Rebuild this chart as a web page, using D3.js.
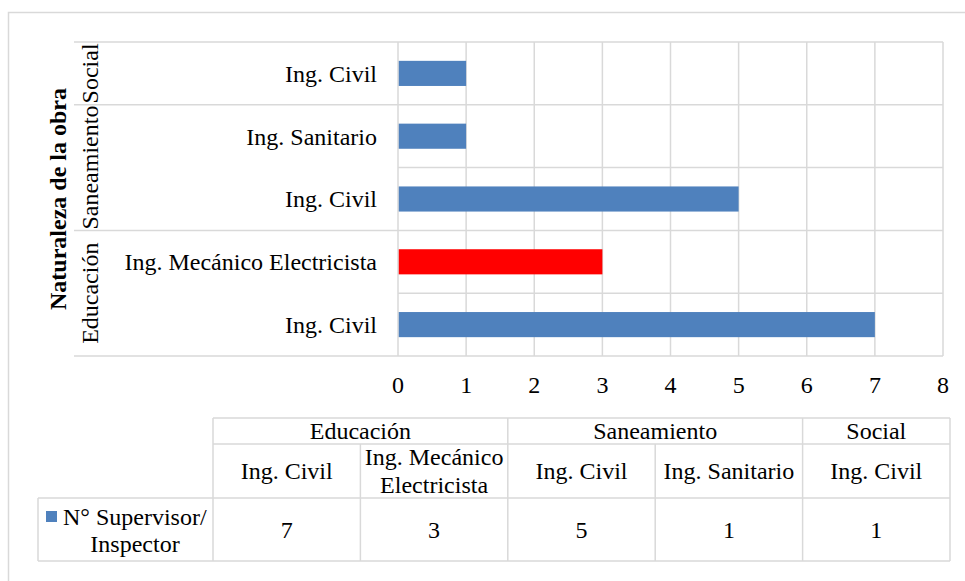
<!DOCTYPE html>
<html>
<head>
<meta charset="utf-8">
<script src="https://cdn.jsdelivr.net/npm/d3@7"></script>
<style>
  body { margin: 0; background: #fff; }
</style>
</head>
<body>
<svg id="chart"></svg>
<script>
// data
const groups = ["Educación", "Saneamiento", "Social"];
const categories = ["Ing. Civil", "Ing. Mecánico Electricista", "Ing. Civil", "Ing. Sanitario", "Ing. Civil"];
const categoryGroup = [0, 0, 1, 1, 2];
const values = [7, 3, 5, 1, 1];
const highlighted = [false, true, false, false, false];
const xTicks = [0, 1, 2, 3, 4, 5, 6, 7, 8];
const seriesName = ["N° Supervisor/", "Inspector"];
const tableHeaderLines = [["Ing. Civil"], ["Ing. Mecánico", "Electricista"], ["Ing. Civil"], ["Ing. Sanitario"], ["Ing. Civil"]];

const W = 965, H = 581;
const grid = "#d9d9d9";
const blue = "#4f81bd", red = "#ff0000";
const fs = 24;
const serif = "Liberation Serif";

const svg = d3.select("#chart").attr("width", W).attr("height", H)
  .attr("font-family", serif).attr("font-size", fs);

// outer chart frame (runs off the right and bottom)
svg.append("rect")
  .attr("x", 8.5).attr("y", 12.5)
  .attr("width", W + 20).attr("height", H + 20)
  .attr("fill", "none").attr("stroke", grid).attr("stroke-width", 1.5);

const plot = { left: 398, right: 943, top: 42, bottom: 356 };

const x = d3.scaleLinear().domain([0, 8]).range([plot.left, plot.right]);
const idx = d3.range(categories.length);
const y = d3.scaleBand().domain(idx).range([plot.bottom, plot.top])
  .paddingInner(0.6).paddingOuter(0.3);
// row boundaries (bottom to top)
const rowEdge = i => plot.bottom - i * (plot.bottom - plot.top) / categories.length;

// vertical gridlines
svg.append("g").selectAll("line").data(xTicks).join("line")
  .attr("x1", d => x(d)).attr("x2", d => x(d))
  .attr("y1", plot.top).attr("y2", plot.bottom)
  .attr("stroke", grid).attr("stroke-width", 1.5);

// horizontal lines: inner rows only in plot, group boundaries extend left
const groupStarts = [0];
categoryGroup.forEach((g, i) => { if (i > 0 && g !== categoryGroup[i - 1]) groupStarts.push(i); });
groupStarts.push(categories.length);
svg.append("g").selectAll("line").data(d3.range(categories.length + 1)).join("line")
  .attr("x1", d => groupStarts.includes(d) ? 74 : plot.left)
  .attr("x2", plot.right)
  .attr("y1", d => rowEdge(d)).attr("y2", d => rowEdge(d))
  .attr("stroke", grid).attr("stroke-width", 1.5);

// bars
svg.append("g").selectAll("rect").data(idx).join("rect")
  .attr("x", x(0) + 0.75)
  .attr("y", i => y(i))
  .attr("width", i => x(values[i]) - x(0) - 0.75)
  .attr("height", y.bandwidth())
  .attr("fill", i => highlighted[i] ? red : blue);

// every label goes through this helper so the font is set on the node itself
function label(parent, xx, yy, str, anchor) {
  return parent.append("text")
    .attr("x", xx).attr("y", yy)
    .attr("dy", "0.35em")
    .attr("text-anchor", anchor || "middle")
    .attr("font-family", serif)
    .attr("font-size", fs)
    .style("font-family", "'Liberation Serif', 'Times New Roman', serif")
    .text(str);
}

// inner category labels
const yl = svg.append("g");
idx.forEach(i => label(yl, 377, y(i) + y.bandwidth() / 2, categories[i], "end"));

// group labels (rotated)
const groupSpans = groups.map((g, gi) => ({ name: g, from: groupStarts[gi], to: groupStarts[gi + 1] }));
groupSpans.forEach(d => {
  label(svg, 0, 0, d.name)
    .attr("transform", `translate(90,${(rowEdge(d.from) + rowEdge(d.to)) / 2}) rotate(-90)`);
});

// axis title
label(svg, 0, 0, "Naturaleza de la obra")
  .attr("transform", `translate(58,${(plot.top + plot.bottom) / 2}) rotate(-90)`)
  .attr("font-weight", "bold");

// x tick labels
const xl = svg.append("g");
xTicks.forEach(d => label(xl, x(d), 385, d));

// data table
const tab = { left: 213, right: 950, r0: 418, r1: 444, r2: 498, r3: 561, legendLeft: 38 };
const col = d3.scaleBand().domain(idx).range([tab.left, tab.right]);
const t = svg.append("g");
const line = (x1, y1, x2, y2) => t.append("line")
  .attr("x1", x1).attr("y1", y1).attr("x2", x2).attr("y2", y2)
  .attr("stroke", grid).attr("stroke-width", 1.5);

line(tab.left, tab.r0, tab.right, tab.r0);
line(tab.left, tab.r1, tab.right, tab.r1);
line(tab.legendLeft, tab.r2, tab.right, tab.r2);
line(tab.legendLeft, tab.r3, tab.right, tab.r3);
line(tab.legendLeft, tab.r2, tab.legendLeft, tab.r3);
line(tab.right, tab.r0, tab.right, tab.r3);
idx.forEach(i => line(col(i), groupStarts.includes(i) ? tab.r0 : tab.r1, col(i), tab.r3));

// group header row
groupSpans.forEach(d => {
  const x1 = col(d.from), x2 = d.to < categories.length ? col(d.to) : tab.right;
  label(t, (x1 + x2) / 2, (tab.r0 + tab.r1) / 2, d.name);
});

// category header row
idx.forEach(i => {
  const lines = tableHeaderLines[i];
  lines.forEach((s, k) => {
    label(t, col(i) + col.bandwidth() / 2, (tab.r1 + tab.r2) / 2 + (k - (lines.length - 1) / 2) * 28, s);
  });
});

// values row
idx.forEach(i => label(t, col(i) + col.bandwidth() / 2, (tab.r2 + tab.r3) / 2, values[i]));

// legend key in table
t.append("rect")
  .attr("x", 46).attr("y", 511).attr("width", 11).attr("height", 11)
  .attr("fill", blue);
label(t, 63, 517, seriesName[0], "start");
label(t, 135, 544, seriesName[1]);
</script>
</body>
</html>
